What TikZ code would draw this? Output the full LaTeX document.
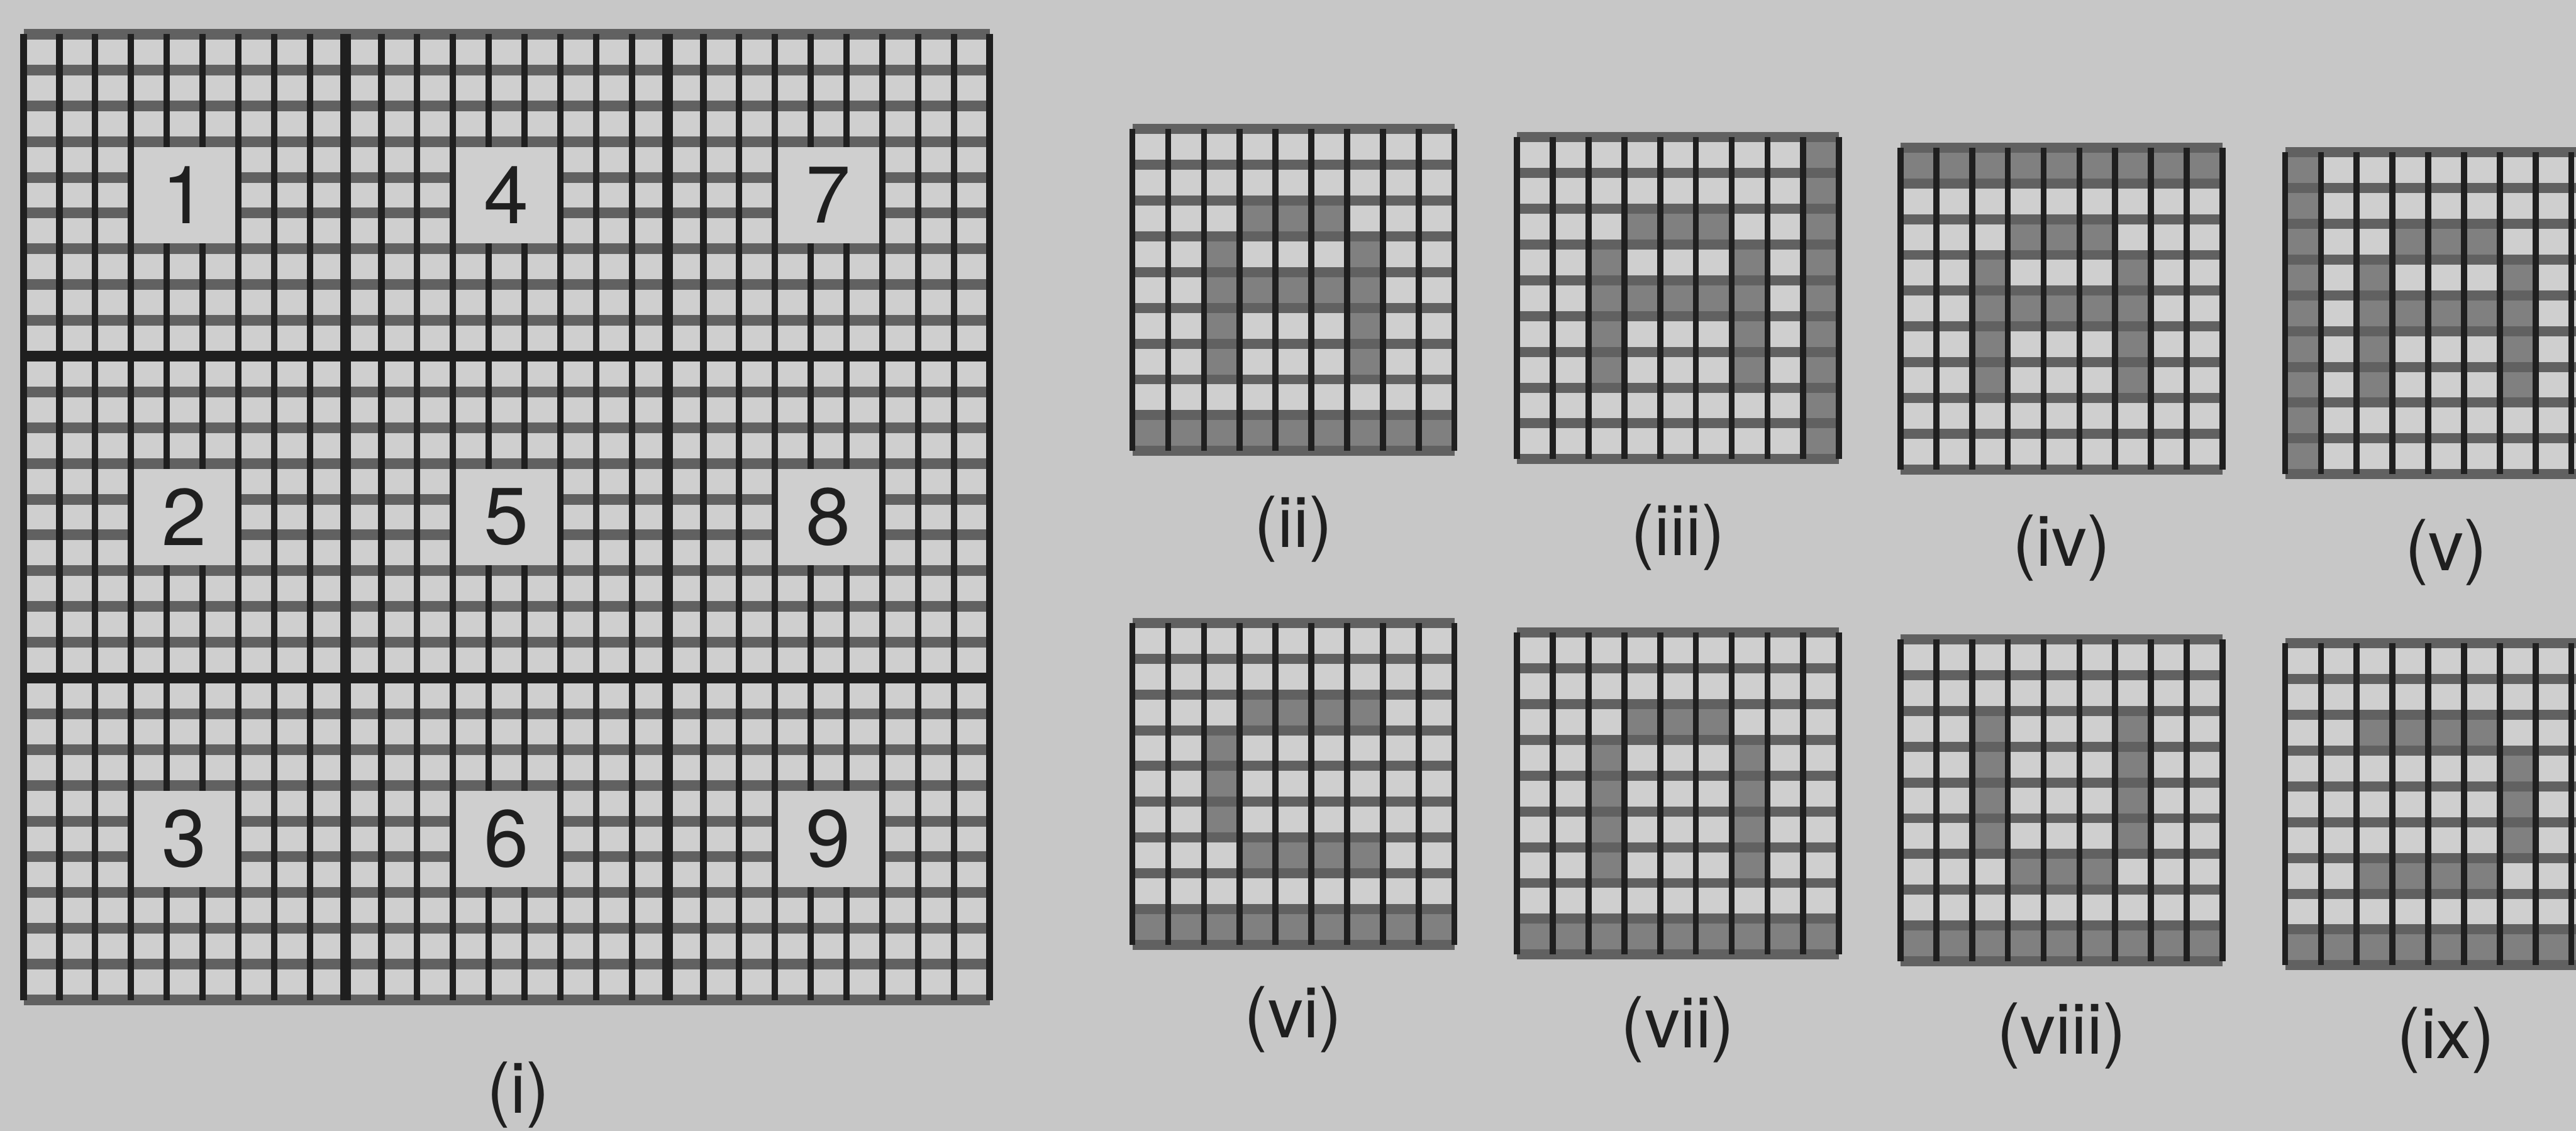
\documentclass[tikz,border=0pt]{standalone}
\usepackage{fontspec}
\setmainfont{TeX Gyre Heros}
\usepackage{tikz}
\usepackage{xcolor}

\definecolor{paper}{gray}{0.78}
\definecolor{cellbg}{gray}{0.81}
\definecolor{inkline}{gray}{0.12}
\definecolor{bandline}{gray}{0.38}
\definecolor{darkcell}{gray}{0.50}

% shaded cells, col/row counted from the bottom left
\newcommand{\shapeA}{3/6,4/6,5/6,2/5,6/5,2/4,3/4,4/4,5/4,6/4,2/3,6/3,2/2,6/2}
\newcommand{\shapeC}{3/6,4/6,5/6,6/6,2/5,2/4,2/3,3/2,4/2,5/2,6/2}
\newcommand{\shapeN}{3/6,4/6,5/6,2/5,6/5,2/4,6/4,2/3,6/3,2/2,6/2}
\newcommand{\shapeU}{2/6,6/6,2/5,6/5,2/4,6/4,2/3,6/3,3/2,4/2,5/2}
\newcommand{\shapeD}{2/6,3/6,4/6,5/6,6/5,6/4,6/3,2/2,3/2,4/2,5/2}

\begin{document}
\begin{tikzpicture}[
    x=0.5cm, y=0.5cm,
    hband/.style={draw=bandline, line width=0.15cm},
    vline/.style={draw=inkline, line width=0.09cm},
    blockline/.style={draw=inkline, line width=0.15cm},
    oncell/.style={fill=darkcell},
    numbox/.style={fill=cellbg, inner sep=0pt, minimum width=1.41cm, minimum height=1.35cm,
        text=inkline, font=\fontsize{32}{38}\selectfont},
    caption/.style={font=\fontsize{28}{34}\selectfont, text=inkline, anchor=base},
    smallgrid/.pic={
        \foreach \k in {0,...,9} \draw[hband, line width=0.14cm] (0,\k) -- (9,\k);
        \foreach \k in {0,...,9} \draw[vline, line width=0.085cm] (\k,0) -- (\k,9);
    }
]

\useasboundingbox (0,0) rectangle (72,31.618);
\clip (0,0) rectangle (72,31.618);
\fill[paper] (0,0) rectangle (72,31.618);

% Big grid (i)
\begin{scope}[shift={(0.66,3.66)}]
  \fill[cellbg] (0,0) rectangle (27,27);
  \foreach \k in {0,...,27} \draw[hband] (0,\k) -- (27,\k);
  \foreach \k in {0,...,27} \draw[vline] (\k,0) -- (\k,27);
  \foreach \k in {9,18} {
    \draw[blockline] (0,\k) -- (27,\k);
    \draw[blockline] (\k,0) -- (\k,27);
  }
  \node[numbox] (b1) at (4.5,22.5) {1};
  \node[numbox] (b2) at (4.5,13.5) {2};
  \node[numbox] (b3) at (4.5,4.5) {3};
  \node[numbox] (b4) at (13.5,22.5) {4};
  \node[numbox] (b5) at (13.5,13.5) {5};
  \node[numbox] (b6) at (13.5,4.5) {6};
  \node[numbox] (b7) at (22.5,22.5) {7};
  \node[numbox] (b8) at (22.5,13.5) {8};
  \node[numbox] (b9) at (22.5,4.5) {9};
\end{scope}
\node[caption] (l1) at (14.49,0.5) {(i)};

% (ii)
\begin{scope}[shift={(31.65,19.01)}]
  \fill[cellbg] (0,0) rectangle (9,9);
  \foreach \cx/\cy in \shapeA \fill[oncell] (\cx,\cy) rectangle ++(1,1);
  \foreach \cx in {0,...,8} \fill[oncell] (\cx,0) rectangle ++(1,1);
  \pic {smallgrid};
  \coordinate (g2) at (4.5,0);
\end{scope}
\node[caption] (l2) at ([yshift=-1.35cm]g2) {(ii)};

% (iii)
\begin{scope}[shift={(42.4,18.78)}]
  \fill[cellbg] (0,0) rectangle (9,9);
  \foreach \cx/\cy in \shapeA \fill[oncell] (\cx,\cy) rectangle ++(1,1);
  \foreach \cy in {0,...,8} \fill[oncell] (8,\cy) rectangle ++(1,1);
  \pic {smallgrid};
  \coordinate (g3) at (4.5,0);
\end{scope}
\node[caption] (l3) at ([yshift=-1.35cm]g3) {(iii)};

% (iv)
\begin{scope}[shift={(53.12,18.49)}]
  \fill[cellbg] (0,0) rectangle (9,9);
  \foreach \cx/\cy in \shapeA \fill[oncell] (\cx,\cy) rectangle ++(1,1);
  \foreach \cx in {0,...,8} \fill[oncell] (\cx,8) rectangle ++(1,1);
  \pic {smallgrid};
  \coordinate (g4) at (4.5,0);
\end{scope}
\node[caption] (l4) at ([yshift=-1.35cm]g4) {(iv)};

% (v)
\begin{scope}[shift={(63.87,18.36)}]
  \fill[cellbg] (0,0) rectangle (9,9);
  \foreach \cx/\cy in \shapeA \fill[oncell] (\cx,\cy) rectangle ++(1,1);
  \foreach \cy in {0,...,8} \fill[oncell] (0,\cy) rectangle ++(1,1);
  \pic {smallgrid};
  \coordinate (g5) at (4.5,0);
\end{scope}
\node[caption] (l5) at ([yshift=-1.35cm]g5) {(v)};

% (vi)
\begin{scope}[shift={(31.65,5.20)}]
  \fill[cellbg] (0,0) rectangle (9,9);
  \foreach \cx/\cy in \shapeC \fill[oncell] (\cx,\cy) rectangle ++(1,1);
  \foreach \cx in {0,...,8} \fill[oncell] (\cx,0) rectangle ++(1,1);
  \pic {smallgrid};
  \coordinate (g6) at (4.5,0);
\end{scope}
\node[caption] (l6) at ([yshift=-1.3cm]g6) {(vi)};

% (vii)
\begin{scope}[shift={(42.4,4.93)}]
  \fill[cellbg] (0,0) rectangle (9,9);
  \foreach \cx/\cy in \shapeN \fill[oncell] (\cx,\cy) rectangle ++(1,1);
  \foreach \cx in {0,...,8} \fill[oncell] (\cx,0) rectangle ++(1,1);
  \pic {smallgrid};
  \coordinate (g7) at (4.5,0);
\end{scope}
\node[caption] (l7) at ([yshift=-1.3cm]g7) {(vii)};

% (viii)
\begin{scope}[shift={(53.12,4.74)}]
  \fill[cellbg] (0,0) rectangle (9,9);
  \foreach \cx/\cy in \shapeU \fill[oncell] (\cx,\cy) rectangle ++(1,1);
  \foreach \cx in {0,...,8} \fill[oncell] (\cx,0) rectangle ++(1,1);
  \pic {smallgrid};
  \coordinate (g8) at (4.5,0);
\end{scope}
\node[caption] (l8) at ([yshift=-1.3cm]g8) {(viii)};

% (ix)
\begin{scope}[shift={(63.87,4.63)}]
  \fill[cellbg] (0,0) rectangle (9,9);
  \foreach \cx/\cy in \shapeD \fill[oncell] (\cx,\cy) rectangle ++(1,1);
  \foreach \cx in {0,...,8} \fill[oncell] (\cx,0) rectangle ++(1,1);
  \pic {smallgrid};
  \coordinate (g9) at (4.5,0);
\end{scope}
\node[caption] (l9) at ([yshift=-1.3cm]g9) {(ix)};

\end{tikzpicture}
\end{document}
